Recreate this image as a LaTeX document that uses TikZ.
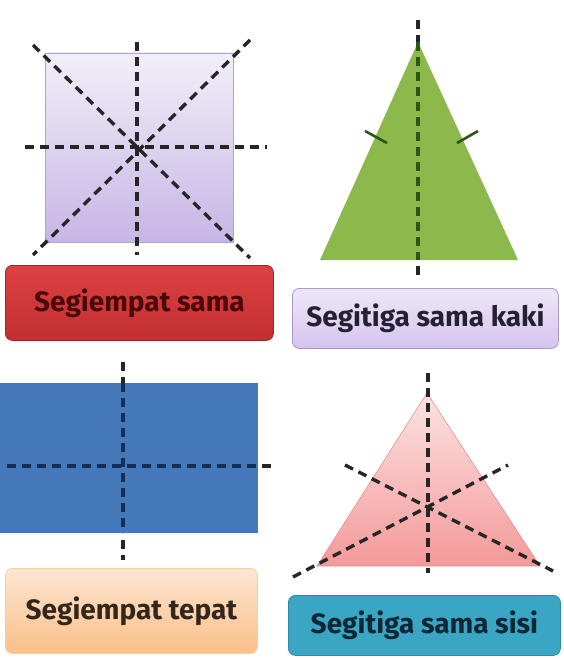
\documentclass[tikz,border=0pt]{standalone}
\usepackage{fontspec}
\setsansfont{Fira Sans}
\usetikzlibrary{positioning, calc}
\definecolor{sqTop}   {HTML}{F2EEF8}
\definecolor{sqBot}   {HTML}{C7B6E6}
\definecolor{sqEdge}  {HTML}{B3A3D3}
\definecolor{clRED}   {HTML}{DD4143}
\definecolor{clREDb}  {HTML}{C22F31}
\definecolor{txRED}   {HTML}{4A0808}
\definecolor{clPURt}  {HTML}{EFE8F7}
\definecolor{clPURb}  {HTML}{D5C3EE}
\definecolor{bPUR}    {HTML}{A898C6}
\definecolor{txPUR}   {HTML}{262034}
\definecolor{clGREEN} {HTML}{8DB94C}
\definecolor{dkGREEN} {HTML}{2C5614}
\definecolor{clBLUE}  {HTML}{4579B8}
\definecolor{dkBLUE}  {HTML}{132E58}
\definecolor{clORt}   {HTML}{FDE6D2}
\definecolor{clORb}   {HTML}{FBBF88}
\definecolor{txOR}    {HTML}{33261A}
\definecolor{clPINKt} {HTML}{FCE3E3}
\definecolor{clPINKb} {HTML}{F49999}
\definecolor{bPINK}   {HTML}{E58F8F}
\definecolor{clTEAL}  {HTML}{3BA5C4}
\definecolor{bTEAL}   {HTML}{2A8AA8}
\definecolor{txTEAL}  {HTML}{0B2634}
\definecolor{dash}    {HTML}{262626}

\begin{document}
\begin{tikzpicture}[
    x=1pt, y=-1pt,
    every node/.style={font=\sffamily\bfseries\fontsize{28}{32}\selectfont},
    label/.style={
        rounded corners=7pt, inner sep=0pt,
        line width=0.8pt, anchor=north west
    },
    symline/.style={line width=3.4pt, dash pattern=on 9pt off 6pt, draw=dash},
    tick/.style={line width=2.6pt, draw=dkGREEN}
]

\useasboundingbox (0,0) rectangle (563,660);

% ── SEGIEMPAT SAMA ─────────────────────────────────────────────
\shade[top color=sqTop, bottom color=sqBot, draw=sqEdge, line width=0.6pt]
    (45,53) rectangle (233,242);
\draw[symline] (137,42) -- (137,255);
\draw[symline] (25,147) -- (267,147);
\draw[symline] (33,45) -- (250,258);
\draw[symline] (250,40) -- (33,255);

\node[label, draw=clREDb!80!black, top color=clRED, bottom color=clREDb,
      minimum width=268pt, minimum height=75pt] (sama)
    at (5,265) {};
\node[text=txRED] at (sama.center) {Segiempat sama};

% ── SEGITIGA SAMA KAKI ─────────────────────────────────────────
\fill[clGREEN] (418,42) -- (518,260) -- (320,260) -- cycle;
\draw[symline] (418,20) -- (418,42);
\draw[symline, draw=dkGREEN] (418,42) -- (418,260);
\draw[symline] (418,266) -- (418,278);
\draw[tick] (365,131) -- (387,143);
\draw[tick] (457,143) -- (478,131);

\node[label, draw=bPUR, top color=clPURt, bottom color=clPURb,
      minimum width=266pt, minimum height=60pt] (kaki)
    at (292,288) {};
\node[text=txPUR] at (kaki.center) {Segitiga sama kaki};

% ── SEGIEMPAT TEPAT ────────────────────────────────────────────
\fill[clBLUE] (0,383) rectangle (258,533);
\draw[symline] (123,362) -- (123,383);
\draw[symline, draw=dkBLUE] (123,383) -- (123,533);
\draw[symline] (123,540) -- (123,560);
\draw[symline, draw=dkBLUE] (7,466) -- (258,466);
\draw[symline] (262,466) -- (273,466);

\node[label, draw=clORb!80!white, top color=clORt, bottom color=clORb,
      minimum width=252pt, minimum height=85pt] (tepat)
    at (5,568) {};
\node[text=txOR] at (tepat.center) {Segiempat tepat};

% ── SEGITIGA SAMA SISI ─────────────────────────────────────────
\shade[top color=clPINKt, bottom color=clPINKb, draw=bPINK, line width=0.6pt]
    (427,393) -- (540,566) -- (317,566) -- cycle;
\draw[symline] (428,373) -- (428,573);
\draw[symline] (345,465) -- (553,571);
\draw[symline] (293,577) -- (508,465);

\node[label, draw=bTEAL, fill=clTEAL,
      minimum width=272pt, minimum height=60pt] (sisi)
    at (288,595) {};
\node[text=txTEAL] at (sisi.center) {Segitiga sama sisi};

\end{tikzpicture}
\end{document}
